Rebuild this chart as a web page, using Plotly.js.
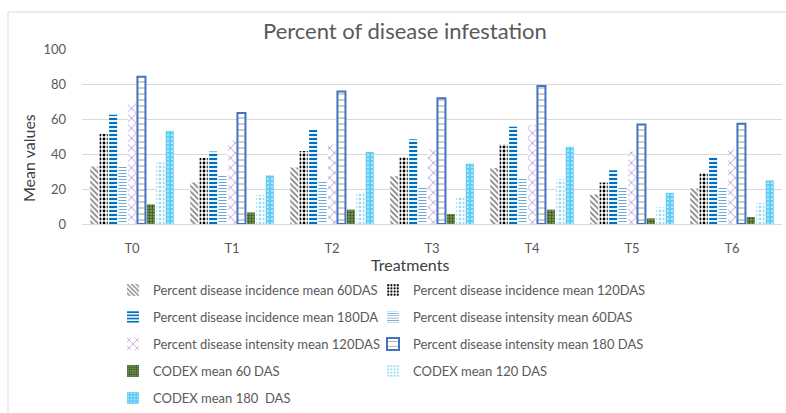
<!DOCTYPE html>
<html>
<head>
<meta charset="utf-8">
<script src="https://cdn.plot.ly/plotly-3.0.1.min.js"></script>
<style>html,body{margin:0;padding:0;background:#fff;}#chart{width:786px;height:413px;}</style>
</head>
<body>
<div id="chart"></div>
<script>
const categories = ['T0', 'T1', 'T2', 'T3', 'T4', 'T5', 'T6'];
const seriesNames = [
  'Percent disease incidence mean 60DAS',
  'Percent disease incidence mean 120DAS',
  'Percent disease incidence mean 180DA',
  'Percent disease intensity mean 60DAS',
  'Percent disease intensity mean 120DAS',
  'Percent disease intensity mean 180 DAS',
  'CODEX mean 60 DAS',
  'CODEX mean 120 DAS',
  'CODEX mean 180  DAS'
];
const incidence60 = [32.8, 23.7, 32.3, 27.3, 31.9, 16.9, 20.3];
const incidence120 = [51.4, 37.8, 41.7, 38.1, 45.4, 23.7, 29.0];
const incidence180 = [62.4, 41.4, 53.7, 48.4, 55.6, 30.7, 38.0];
const intensity60 = [33.4, 28.3, 24.9, 21.3, 25.7, 21.1, 21.6];
const intensity120 = [69.0, 47.8, 45.5, 42.7, 56.7, 41.4, 42.7];
const intensity180 = [84.2, 63.4, 75.7, 71.9, 78.9, 56.9, 57.3];
const codex60 = [11.2, 6.6, 8.2, 5.7, 8.2, 3.2, 4.0];
const codex120 = [35.1, 16.5, 18.2, 15.9, 25.6, 9.5, 12.0];
const codex180 = [53.3, 27.8, 41.2, 34.5, 44.2, 17.8, 24.9];
const allValues = [incidence60, incidence120, incidence180, intensity60, intensity120, intensity180, codex60, codex120, codex180];

const styles = [
  {color:'#ffffff', pattern:{shape:'\\', fgcolor:'#7f7f7f', bgcolor:'#ffffff', size:4, solidity:0.4}},
  {color:'#ffffff', pattern:{shape:'.', fgcolor:'#000000', bgcolor:'#ffffff', size:4, solidity:0.4}},
  {color:'#ffffff', pattern:{shape:'-', fgcolor:'#0070c0', bgcolor:'#ffffff', size:4, solidity:0.55}},
  {color:'#ffffff', pattern:{shape:'-', fgcolor:'#6fa8dc', bgcolor:'#ffffff', size:3, solidity:0.35}},
  {color:'#ffffff', pattern:{shape:'x', fgcolor:'#a67fd1', bgcolor:'#ffffff', size:7, solidity:0.2}},
  {color:'#ffffff', pattern:{shape:'-', fgcolor:'#8c9c7c', bgcolor:'#ffffff', size:6, solidity:0.15}, line:{color:'#4472c4', width:2}},
  {color:'#548235', pattern:{shape:'+', fgcolor:'#375623', bgcolor:'#6f9050', size:3, solidity:0.4}},
  {color:'#ffffff', pattern:{shape:'.', fgcolor:'#8fd8f7', bgcolor:'#ffffff', size:4, solidity:0.35}},
  {color:'#5ecbf5', pattern:{shape:'.', fgcolor:'#a8e4fb', bgcolor:'#5ecbf5', size:4, solidity:0.3}}
];

const L = 82, T = 49, W = 700, H = 175;
const px = x => (x - L) / W;
const py = y => (T + H - y) / H;

const legendKeys = seriesNames.map((_, i) => i === 0 ? 'legend' : 'legend' + (i + 1));
const data = allValues.map((vals, i) => ({
  type: 'bar',
  name: seriesNames[i],
  x: categories,
  y: vals,
  legend: legendKeys[i],
  marker: {
    color: styles[i].color,
    pattern: styles[i].pattern,
    line: styles[i].line || {width: 0}
  },
  hoverinfo: 'skip'
}));

const rowY = [290, 317, 344, 371, 398];
const colX = [113, 373];
const legendCommon = {
  orientation: 'v',
  xanchor: 'left',
  yanchor: 'middle',
  bgcolor: 'rgba(0,0,0,0)',
  font: {family: 'Lato, sans-serif', size: 13, color: '#595959'},
  itemclick: false,
  itemdoubleclick: false
};

const layout = {
  width: 786,
  height: 413,
  margin: {l: L, r: 786 - L - W, t: T, b: 413 - T - H, autoexpand: false},
  paper_bgcolor: '#ffffff',
  plot_bgcolor: '#ffffff',
  font: {family: 'Lato, sans-serif', color: '#595959'},
  barmode: 'group',
  bargap: 0.15,
  bargroupgap: 0.15,
  showlegend: true,
  xaxis: {
    type: 'category',
    tickfont: {size: 13, color: '#595959'},
    showline: true,
    linecolor: '#d9d9d9',
    linewidth: 1,
    ticks: '',
    showgrid: false,
    ticklabelstandoff: 12,
    fixedrange: true
  },
  yaxis: {
    range: [0, 100],
    tick0: 0,
    dtick: 20,
    tickfont: {size: 13, color: '#595959'},
    gridcolor: '#d9d9d9',
    zeroline: false,
    ticks: '',
    ticklabelstandoff: 15,
    fixedrange: true
  },
  annotations: [
    {text: 'Percent of disease infestation', xref: 'paper', yref: 'paper', x: px(405), y: py(30), xanchor: 'center', yanchor: 'middle', showarrow: false, font: {size: 22, color: '#595959'}},
    {text: 'Mean values', xref: 'paper', yref: 'paper', x: px(28), y: py(158), xanchor: 'center', yanchor: 'middle', textangle: -90, showarrow: false, font: {size: 16, color: '#404040'}},
    {text: 'Treatments', xref: 'paper', yref: 'paper', x: px(410), y: py(264), xanchor: 'center', yanchor: 'middle', showarrow: false, borderpad: 0, font: {size: 16, color: '#404040'}}
  ],
  shapes: [
    {type: 'rect', xref: 'paper', yref: 'paper', x0: px(8), x1: px(800), y0: py(12), y1: py(420), line: {color: '#d9d9d9', width: 1}, fillcolor: 'rgba(0,0,0,0)', layer: 'below'}
  ]
};
legendKeys.forEach((key, i) => {
  layout[key] = Object.assign({}, legendCommon, {
    x: px(colX[i % 2]),
    y: py(rowY[Math.floor(i / 2)])
  });
});

Plotly.newPlot('chart', data, layout, {staticPlot: true, displayModeBar: false});
</script>
</body>
</html>
